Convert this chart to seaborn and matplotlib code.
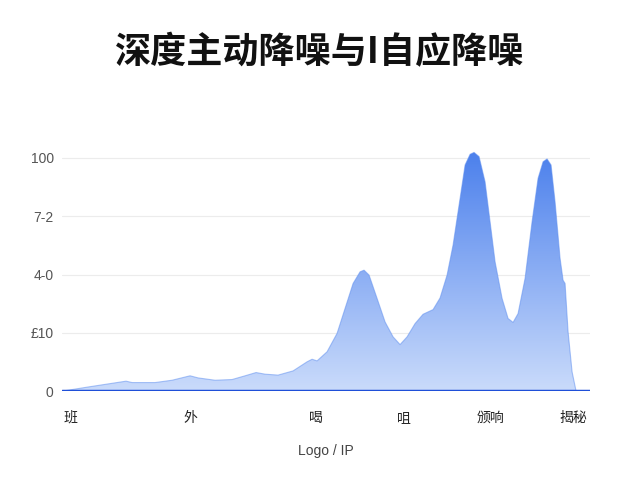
import numpy as np
import pandas as pd
import seaborn as sns
import matplotlib.pyplot as plt
from matplotlib.colors import LinearSegmentedColormap

sns.set_style('white')
plt.rcParams['font.family'] = ['Noto Sans CJK SC', 'DejaVu Sans']

# values
pos = [0, 26, 64, 70, 93, 110, 128, 136, 153, 170, 183, 194, 203, 216,
       231, 245, 250, 255, 265, 275, 283, 291, 298, 302, 307, 315, 323, 331, 338,
       345, 353, 361, 366, 371, 378, 385, 391, 398, 403, 408, 412, 417, 423, 428,
       433, 440, 446, 451, 456, 463, 470, 476, 481, 485, 489, 493, 498, 501, 503,
       506, 510, 514, 528]
val = [0, 1.8, 4.3, 3.7, 3.7, 4.7, 6.6, 5.7, 4.7, 5.0, 6.6, 8.0, 7.3, 6.9,
       8.7, 12.6, 13.7, 13.0, 16.9, 24.8, 35.5, 46.2, 51.2, 51.9, 49.8, 39.8, 29.7, 23.3, 20.0,
       23.3, 29.0, 33.0, 34.0, 35.0, 40.0, 49.8, 62.7, 82.7, 97.0, 101.6, 102.4, 100.6, 89.8, 72.7,
       55.5, 39.8, 31.2, 29.5, 33.3, 48.4, 72.7, 91.3, 98.4, 99.6, 97.0, 81.2, 57.0, 47.6, 46.2,
       25.5, 8.3, 0, 0]
xtick_pos = [8, 128, 254, 342, 428, 511]
xtick_labels = ['班', '外', '喝', '咀', '颁响', '揭秘']
ytick_pos = [0, 25, 50, 75, 100]
ytick_labels = ['0', '£10', '4-0', '7-2', '100']

df = pd.DataFrame({'x': pos, 'y': val})

fig = plt.figure(figsize=(6.4, 4.8), dpi=100)
ax = fig.add_axes([0.097, 0.185, 0.825, 0.515])

# gradient fill clipped to the area under the curve
poly = ax.fill_between(df['x'], df['y'], 0, color='none')
cmap = LinearSegmentedColormap.from_list('g', ['#cadbfb', '#4a7fec'])
grad = np.linspace(0, 1, 256).reshape(-1, 1)
img = ax.imshow(grad, cmap=cmap, aspect='auto', origin='lower',
                extent=[0, 528, 0, 104], zorder=2)
img.set_clip_path(poly.get_paths()[0], transform=ax.transData)

sns.lineplot(data=df, x='x', y='y', ax=ax, color='#5b8cef', lw=0.8, alpha=0.5, zorder=3)

ax.axhline(0, color='#1f4fd8', lw=2.5, zorder=4)
for t in ytick_pos[1:]:
    ax.axhline(t, color='#ececec', lw=0.8, zorder=1)

ax.set_xlim(0, 528)
ax.set_ylim(0, 106)
ax.set_xticks(xtick_pos)
ax.set_xticklabels(xtick_labels, fontsize=10, color='#222222')
ax.set_yticks(ytick_pos)
ax.set_yticklabels(ytick_labels, fontsize=10, color='#555555',
                   family=['Liberation Sans', 'DejaVu Sans'])
ax.tick_params(length=0, pad=6)
ax.tick_params(axis='x', pad=14)
ax.set_xlabel('Logo / IP', fontsize=10, color='#444444', labelpad=14,
              family=['Liberation Sans', 'DejaVu Sans'])
ax.set_ylabel('')
sns.despine(ax=ax, left=True, bottom=True)

fig.text(0.5, 0.89, '深度主动降噪与I自应降噪', ha='center', va='center',
         fontsize=26, fontweight='bold', color='#111111')

fig.savefig('out.png', dpi=100)
